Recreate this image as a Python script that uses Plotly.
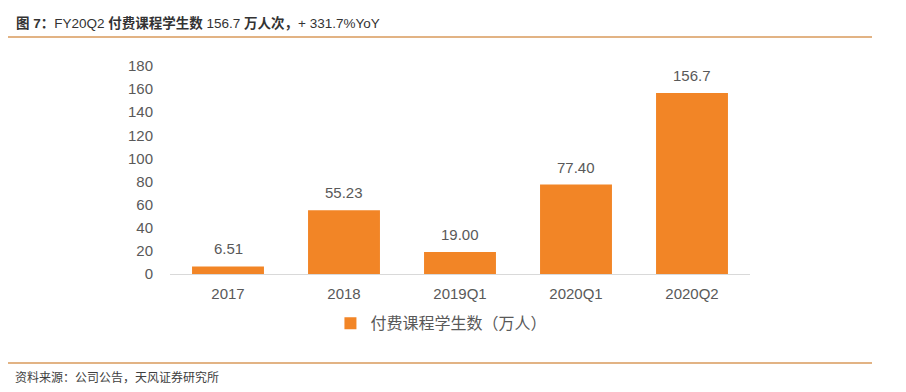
import plotly.graph_objects as go

categories = ["2017", "2018", "2019Q1", "2020Q1", "2020Q2"]
values = [6.51, 55.23, 19.00, 77.40, 156.7]
labels = ["6.51", "55.23", "19.00", "77.40", "156.7"]
series_name = "付费课程学生数（万人）"
y_ticks = [0, 20, 40, 60, 80, 100, 120, 140, 160, 180]

BAR = "#F28526"
TXT = "#595959"
LINE = "#D99A5B"
FONT = "Liberation Sans, Noto Sans CJK SC, sans-serif"

fig = go.Figure()
fig.add_trace(go.Bar(
    x=categories, y=values, name=series_name,
    marker=dict(color=BAR, line=dict(width=0)),
    width=0.62,
))

# value labels placed at each bar top (category index positions)
value_annots = [
    dict(x=i, y=v, xref="x", yref="y", text=t, showarrow=False,
         yanchor="bottom", yshift=7, font=dict(size=15, color=TXT, family=FONT))
    for i, (v, t) in enumerate(zip(values, labels))
]

# Page body has an 8px margin, so figure is 8px smaller and shifted
fig.update_layout(
    width=898, height=384,
    margin=dict(l=162, r=156, t=58, b=118, autoexpand=False),
    paper_bgcolor="white", plot_bgcolor="white",
    font=dict(family=FONT, color=TXT, size=15),
    showlegend=True,
    legend=dict(orientation="h", x=0.468, xanchor="center", y=-0.155, yanchor="top",
                font=dict(size=16, color=TXT, family=FONT),
                itemwidth=30, bgcolor="rgba(0,0,0,0)"),
    xaxis=dict(type="category", categoryorder="array", categoryarray=categories,
               range=[-0.5, len(categories) - 0.5],
               showgrid=False, showline=True, linecolor="#D9D9D9", linewidth=1,
               ticks="", tickfont=dict(size=15, color=TXT), automargin=False,
               ticklabelstandoff=6),
    yaxis=dict(range=[0, 180], tickvals=y_ticks, showgrid=False, zeroline=False,
               showline=False, ticks="", ticklen=0, tickfont=dict(size=15, color=TXT),
               automargin=False, ticklabelstandoff=16),
    shapes=[
        dict(type="line", xref="paper", yref="paper",
             x0=-166/580, x1=702/580, y0=(392-118-37)/208, y1=(392-118-37)/208,
             line=dict(color=LINE, width=1.5)),
        dict(type="line", xref="paper", yref="paper",
             x0=-166/580, x1=702/580, y0=(392-118-363)/208, y1=(392-118-363)/208,
             line=dict(color=LINE, width=1.5)),
    ],
    annotations=value_annots + [
        dict(xref="paper", yref="paper", x=-156/580, y=(392-118-23)/208,
             xanchor="left", yanchor="middle", showarrow=False,
             text="<b>图 7：</b>FY20Q2 <b>付费课程学生数</b> 156.7 <b>万人次，</b>+ 331.7%YoY",
             font=dict(size=13.5, color="#333333", family=FONT)),
        dict(xref="paper", yref="paper", x=-157/580, y=(392-118-377)/208,
             xanchor="left", yanchor="middle", showarrow=False,
             text="资料来源：公司公告，天风证券研究所",
             font=dict(size=12, color="#404040", family=FONT)),
    ],
    bargap=0.38,
)

fig.write_html("out.html")
